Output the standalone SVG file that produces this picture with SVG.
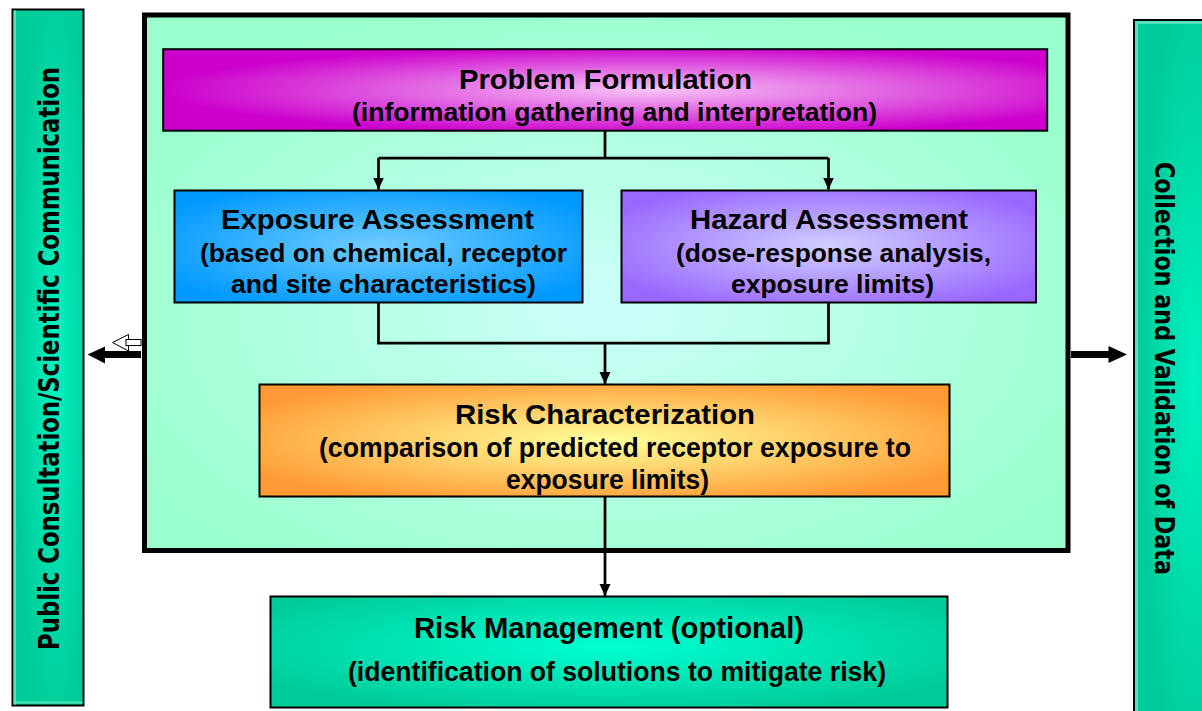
<svg xmlns="http://www.w3.org/2000/svg" width="1202" height="711" viewBox="0 0 1202 711">
<defs>
<radialGradient id="gMain" cx="0.5" cy="0.55" r="0.6"><stop offset="0" stop-color="#CCFFFA"/><stop offset="1" stop-color="#99FFCC"/></radialGradient>
<radialGradient id="gSide" cx="0.6" cy="0.5" r="0.55"><stop offset="0" stop-color="#00F2C2"/><stop offset="1" stop-color="#00CC99"/></radialGradient>
<radialGradient id="gProb" cx="0.55" cy="0.5" r="0.55"><stop offset="0" stop-color="#F7C4F7"/><stop offset="1" stop-color="#CC00CC"/></radialGradient>
<radialGradient id="gExp" cx="0.5" cy="0.5" r="0.6"><stop offset="0" stop-color="#70CCFF"/><stop offset="1" stop-color="#0099FF"/></radialGradient>
<radialGradient id="gHaz" cx="0.5" cy="0.5" r="0.6"><stop offset="0" stop-color="#D0D0FF"/><stop offset="1" stop-color="#9966FF"/></radialGradient>
<radialGradient id="gRisk" cx="0.5" cy="0.5" r="0.6"><stop offset="0" stop-color="#FFFF99"/><stop offset="1" stop-color="#FF9933"/></radialGradient>
<radialGradient id="gMgmt" cx="0.5" cy="0.45" r="0.6"><stop offset="0" stop-color="#00FFD2"/><stop offset="1" stop-color="#00CC99"/></radialGradient>
<marker id="ah" markerUnits="userSpaceOnUse" markerWidth="12" markerHeight="12" viewBox="0 0 12 12" refX="12" refY="6" orient="auto"><path d="M0,0.5 L12,6 L0,11.5 Z" fill="#000"/></marker>
<style>
.box{stroke:#000;stroke-width:2}
.t{font-family:"Liberation Sans",Arial,sans-serif;font-weight:bold;fill:#000}
.side{font-family:"DejaVu Sans",Verdana,sans-serif;font-weight:bold;fill:#000}
.ln{fill:none;stroke:#000;stroke-width:2.75}
</style>
</defs>
<rect width="1202" height="711" fill="#fff"/>

<g id="left-panel">
<rect x="12.5" y="9.5" width="71" height="696" fill="url(#gSide)" stroke="#000" stroke-width="2"/>
<rect x="13.5" y="10.5" width="2.5" height="694" fill="#55E3BE"/>
<rect x="13.5" y="701.5" width="69" height="2" fill="#55E3BE"/>
<text class="side" font-size="28" transform="translate(59,650) rotate(-90)" textLength="583" lengthAdjust="spacingAndGlyphs">Public Consultation/Scientific Communication</text>
</g>

<g id="right-panel">
<rect x="1134" y="20" width="100" height="720" fill="url(#gSide)" stroke="#000" stroke-width="2"/>
<rect x="1135" y="21" width="3" height="700" fill="#55E3BE"/>
<rect x="1135" y="21" width="70" height="3" fill="#55E3BE"/>
<text class="side" font-size="27" transform="translate(1155,162) rotate(90)" textLength="413" lengthAdjust="spacingAndGlyphs">Collection and Validation of Data</text>
</g>

<g id="main-frame">
<rect x="144.5" y="15" width="923.5" height="535.5" fill="url(#gMain)" stroke="#000" stroke-width="5"/>
</g>

<g id="problem-formulation">
<rect class="box" x="163.2" y="49.2" width="884" height="81.5" fill="url(#gProb)"/>
<text class="t" x="459" y="89" font-size="28" textLength="293" lengthAdjust="spacingAndGlyphs">Problem Formulation</text>
<text class="t" x="352" y="121" font-size="26" textLength="525" lengthAdjust="spacingAndGlyphs">(information gathering and interpretation)</text>
</g>

<g id="exposure-assessment">
<rect class="box" x="174.5" y="190.5" width="408" height="112" fill="url(#gExp)"/>
<text class="t" x="221" y="229" font-size="28" textLength="313" lengthAdjust="spacingAndGlyphs">Exposure Assessment</text>
<text class="t" x="200" y="262" font-size="26" textLength="367" lengthAdjust="spacingAndGlyphs">(based on chemical, receptor</text>
<text class="t" x="231" y="293" font-size="26" textLength="305" lengthAdjust="spacingAndGlyphs">and site characteristics)</text>
</g>

<g id="hazard-assessment">
<rect class="box" x="621.5" y="190.5" width="414.5" height="112" fill="url(#gHaz)"/>
<text class="t" x="690" y="229" font-size="28" textLength="278" lengthAdjust="spacingAndGlyphs">Hazard Assessment</text>
<text class="t" x="676" y="262" font-size="26" textLength="315" lengthAdjust="spacingAndGlyphs">(dose-response analysis,</text>
<text class="t" x="731" y="293" font-size="26" textLength="203" lengthAdjust="spacingAndGlyphs">exposure limits)</text>
</g>

<g id="risk-characterization">
<rect class="box" x="259.5" y="384.5" width="690" height="112" fill="url(#gRisk)"/>
<text class="t" x="455" y="424" font-size="28" textLength="300" lengthAdjust="spacingAndGlyphs">Risk Characterization</text>
<text class="t" x="319" y="457" font-size="27" textLength="592" lengthAdjust="spacingAndGlyphs">(comparison of predicted receptor exposure to</text>
<text class="t" x="506" y="489" font-size="27" textLength="203" lengthAdjust="spacingAndGlyphs">exposure limits)</text>
</g>

<g id="risk-management">
<rect class="box" x="270.5" y="596.5" width="677" height="111" fill="url(#gMgmt)"/>
<text class="t" x="414" y="638" font-size="29" textLength="390" lengthAdjust="spacingAndGlyphs">Risk Management (optional)</text>
<text class="t" x="348" y="681" font-size="27" textLength="538" lengthAdjust="spacingAndGlyphs">(identification of solutions to mitigate risk)</text>
</g>

<g id="connectors">
<path class="ln" d="M605,131 V158 M378.5,158 H828.5"/>
<path class="ln" d="M378.5,158 V189.5" marker-end="url(#ah)"/>
<path class="ln" d="M828.5,158 V189.5" marker-end="url(#ah)"/>
<path class="ln" d="M378.5,302 V343 H828.5 V302"/>
<path class="ln" d="M605,343 V384" marker-end="url(#ah)"/>
<path class="ln" d="M605,497 V596" marker-end="url(#ah)"/>
<polygon points="141,351 105,351 105,346.5 87.5,354.5 105,363.5 105,358 141,358" fill="#000"/>
<polygon points="112.5,342.5 128.5,334.5 128.5,351" fill="#fff" stroke="#000" stroke-width="1"/>
<rect x="126" y="339.5" width="15" height="6" fill="#fff" stroke="#000" stroke-width="1"/>
<polygon points="1071,351 1108.5,351 1108.5,346 1127,354.5 1108.5,363 1108.5,358 1071,358" fill="#000"/>
</g>
</svg>
